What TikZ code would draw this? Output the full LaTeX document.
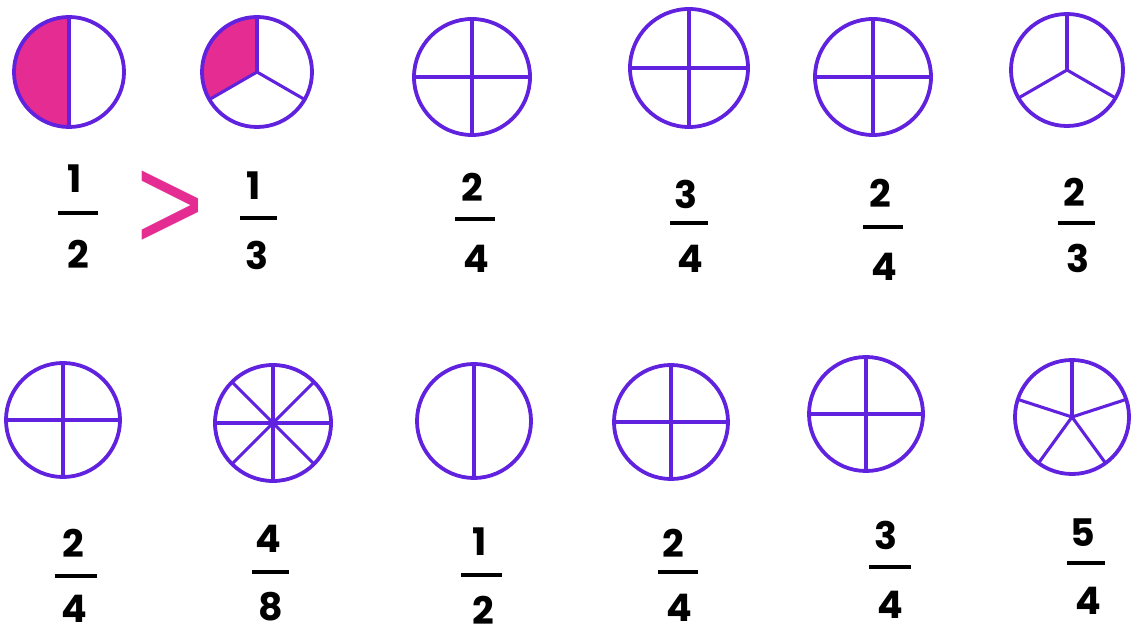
\documentclass[tikz,border=0pt]{standalone}
\usepackage{fontspec}
\setmainfont{Poppins}
\newfontfamily\signfont{Liberation Sans}
\usepackage{xcolor}
\definecolor{wheelviolet}{RGB}{96,34,222}
\definecolor{slicepink}{RGB}{228,44,146}

\begin{document}
\begin{tikzpicture}[
			x=0.025cm, y=-0.025cm,
			wheel/.style={circle, draw=wheelviolet, line width=2.7pt,
				minimum size=#1, inner sep=0pt, outer sep=0pt},
			spoke/.style={draw=wheelviolet, line width=2.2pt},
			slice/.style={fill=slicepink},
			digit/.style={font=\fontsize{27}{30}\selectfont\bfseries, inner sep=0pt},
			fracbar/.style={line width=2.8pt, black},
			sign/.style={font=\signfont\fontsize{97}{97}\selectfont, text=slicepink, inner sep=0pt}
			]
			
			\useasboundingbox (0,0) rectangle (1131,628);
			
			% Закрашенные доли
			\fill[slice] (69,72) -- ++(0,-55) arc[start angle=90, end angle=270, radius=1.375cm] -- cycle;
			\fill[slice] (257,72) -- ++(0,-55) arc[start angle=90, end angle=210, radius=1.375cm] -- cycle;
			
			% Верхний ряд кругов
			\node[wheel=2.75cm] (c1) at (69,72) {};
			\node[wheel=2.75cm] (c2) at (257,72) {};
			\node[wheel=2.9cm] (c3) at (472,77) {};
			\node[wheel=2.95cm] (c4) at (689,68) {};
			\node[wheel=2.9cm] (c5) at (873,77) {};
			\node[wheel=2.8cm] (c6) at (1067,70) {};
			
			\draw[spoke] (c1.north) -- (c1.south);
			\foreach \a in {90,210,330} \draw[spoke] (c2.center) -- (c2.\a);
			\draw[spoke] (c3.north) -- (c3.south);
			\draw[spoke] (c3.west) -- (c3.east);
			\draw[spoke] (c4.north) -- (c4.south);
			\draw[spoke] (c4.west) -- (c4.east);
			\draw[spoke] (c5.north) -- (c5.south);
			\draw[spoke] (c5.west) -- (c5.east);
			\foreach \a in {90,210,330} \draw[spoke] (c6.center) -- (c6.\a);
			
			% Нижний ряд кругов
			\node[wheel=2.85cm] (c7) at (63,420) {};
			\node[wheel=2.9cm] (c8) at (273,423) {};
			\node[wheel=2.85cm] (c9) at (474,421) {};
			\node[wheel=2.85cm] (c10) at (671,422) {};
			\node[wheel=2.85cm] (c11) at (866,414) {};
			\node[wheel=2.85cm] (c12) at (1072,417) {};
			
			\draw[spoke] (c7.north) -- (c7.south);
			\draw[spoke] (c7.west) -- (c7.east);
			\foreach \a in {0,45,...,315} \draw[spoke] (c8.center) -- (c8.\a);
			\fill[wheelviolet] (c8.center) circle (3.5pt);
			\draw[spoke] (c9.north) -- (c9.south);
			\draw[spoke] (c10.north) -- (c10.south);
			\draw[spoke] (c10.west) -- (c10.east);
			\draw[spoke] (c11.north) -- (c11.south);
			\draw[spoke] (c11.west) -- (c11.east);
			\foreach \a in {18,90,162,234,306} \draw[spoke] (c12.center) -- (c12.\a);
			
			% Дроби верхнего ряда
			\node[digit] (n1) at (75,179) {1};
			\draw[fracbar] (58,213) -- (98,213);
			\node[digit] (d1) at (78,254) {2};
			\node[sign] (gt) at (170,211) {\scalebox{0.85}[1]{>}};
			\node[digit] (n2) at (254,186) {1};
			\draw[fracbar] (240,218) -- (277,218);
			\node[digit] (d2) at (257,255) {3};
			\node[digit] (n3) at (472,187) {2};
			\draw[fracbar] (455,219) -- (495,219);
			\node[digit] (d3) at (476,259) {4};
			\node[digit] (n4) at (686,194) {3};
			\draw[fracbar] (670,223) -- (708,223);
			\node[digit] (d4) at (690,259) {4};
			\node[digit] (n5) at (880,193) {2};
			\draw[fracbar] (863,227) -- (903,227);
			\node[digit] (d5) at (884,267) {4};
			\node[digit] (n6) at (1074,192) {2};
			\draw[fracbar] (1058,223) -- (1095,223);
			\node[digit] (d6) at (1078,258) {3};
			
			% Дроби нижнего ряда
			\node[digit] (n7) at (73,543) {2};
			\draw[fracbar] (55,576) -- (97,576);
			\node[digit] (d7) at (74,609) {4};
			\node[digit] (n8) at (268,539) {4};
			\draw[fracbar] (252,572) -- (289,572);
			\node[digit] (d8) at (271,607) {8};
			\node[digit] (n9) at (480,542) {1};
			\draw[fracbar] (461,575) -- (502,575);
			\node[digit] (d9) at (483,610) {2};
			\node[digit] (n10) at (673,543) {2};
			\draw[fracbar] (658,572) -- (698,572);
			\node[digit] (d10) at (679,608) {4};
			\node[digit] (n11) at (886,535) {3};
			\draw[fracbar] (869,567) -- (911,567);
			\node[digit] (d11) at (890,605) {4};
			\node[digit] (n12) at (1083,533) {5};
			\draw[fracbar] (1067,563) -- (1105,563);
			\node[digit] (d12) at (1088,601) {4};
			
		\end{tikzpicture}
\end{document}
